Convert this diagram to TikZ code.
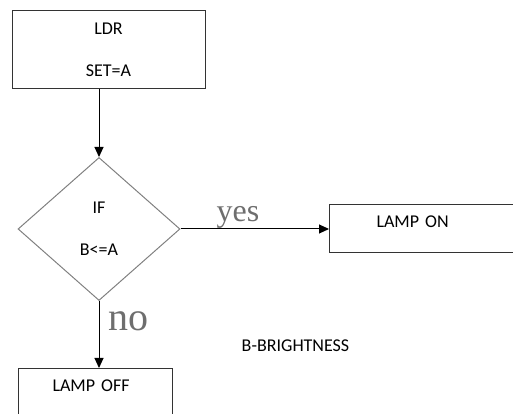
\documentclass[tikz,border=0pt]{standalone}
\usepackage{fontspec}
\setmainfont{Carlito}
\newfontfamily\branchfont{Liberation Serif}
\usetikzlibrary{shapes.geometric, arrows.meta, positioning}
\definecolor{boxline}{HTML}{333333}
\definecolor{diamondline}{HTML}{808080}
\definecolor{branchtext}{HTML}{6E6E6E}

\begin{document}
\begin{tikzpicture}[x=1pt, y=1pt,
    box/.style={rectangle, draw=boxline, line width=1pt, inner sep=0pt, font=\fontsize{18}{42}\selectfont},
    decision/.style={diamond, draw=diamondline, line width=1pt, minimum width=162pt, minimum height=143pt, inner sep=0pt, align=center, font=\fontsize{18}{42}\selectfont},
    arrow/.style={-{Triangle[length=10pt, width=9pt]}, line width=1pt},
    branch/.style={text=branchtext, inner sep=0pt, anchor=base}
]
\useasboundingbox (0,0) rectangle (513,414);
\clip (0,0) rectangle (513,414);

\node[box, minimum width=193pt, minimum height=78pt, align=center] (ldr) at (108.5,364) {LDR\\SET=A};
\node[decision] (ifb) at (99,185) {IF\\B<=A};
\node[box, anchor=north west, minimum width=200pt, minimum height=48pt, inner xsep=47pt, text width=106pt, align=left, text height=11pt, text depth=12pt] (lampon) at (329,210) {LAMP ON};
\node[box, anchor=north west, minimum width=154pt, minimum height=60pt, inner xsep=34pt, text width=86pt, align=left, text height=11pt, text depth=24pt] (lampoff) at (18,46) {LAMP OFF};

\draw[arrow] (ldr.south -| ifb.north) -- (ifb.north);
\draw[arrow] (ifb.east) -- (lampon.west |- ifb.east);
\draw[arrow] (ifb.south) -- (lampoff.north -| ifb.south);

\node[branch, font=\branchfont\fontsize{32}{32}\selectfont] (yes) at (238,192) {yes};
\node[branch, font=\branchfont\fontsize{40}{40}\selectfont] (no) at (128,83) {no};
\node[font=\fontsize{18}{22}\selectfont] (legend) at (295.5,68) {B-BRIGHTNESS};

\end{tikzpicture}
\end{document}
